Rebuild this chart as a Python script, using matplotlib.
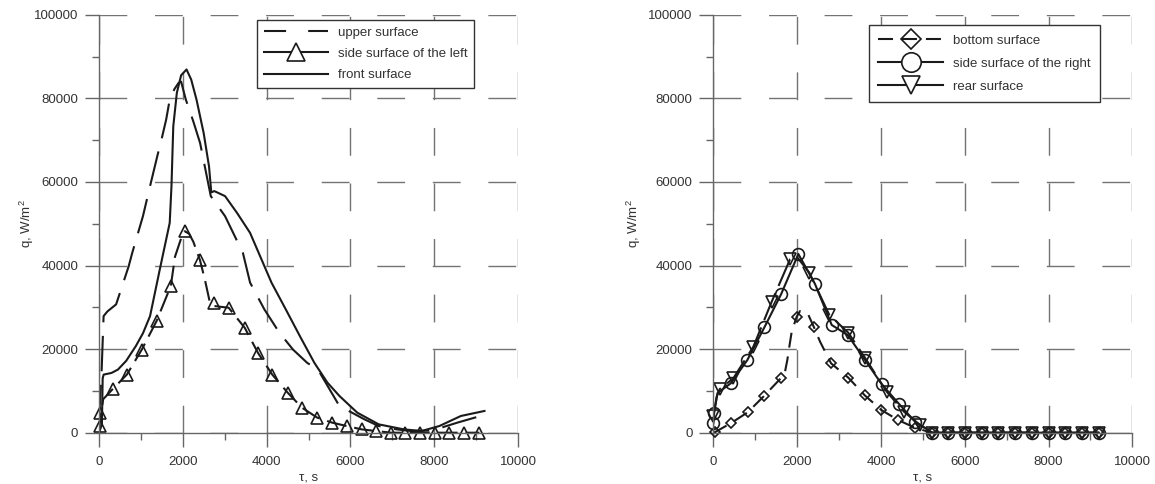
import matplotlib
matplotlib.use("Agg")
import matplotlib.pyplot as plt
from matplotlib.lines import Line2D
from matplotlib.ticker import MultipleLocator, FuncFormatter

plt.rcParams['font.family'] = ['Liberation Sans', 'DejaVu Sans']
plt.rcParams['mathtext.fontset'] = 'custom'
plt.rcParams['mathtext.rm'] = 'Liberation Sans'
plt.rcParams['mathtext.default'] = 'regular'

# ---------------- data: left panel ----------------
upper_t = [0, 60, 110, 200, 409, 708, 793, 1049, 1219, 1390, 1500, 1603, 1688, 1800, 1901, 1960,
           2072, 2250, 2413, 2668, 3009, 3435, 3606, 3947, 4300, 4629, 4970, 5226, 5737, 6334,
           6675, 7101, 7442, 7868, 8200, 8550, 9104, 9200]
upper_q = [3000, 14000, 27900, 29000, 30700, 39800, 43000, 51800, 59000, 66100, 70500, 74900, 79700,
           82200, 83700, 84000, 79700, 74500, 69300, 56600, 51800, 43000, 35900, 29500, 24000, 19900,
           16700, 15100, 6400, 3200, 1600, 800, 400, 500, 1300, 2400, 4000, 4100]

front_t = [0, 70, 88, 111, 300, 452, 650, 878, 1050, 1219, 1450, 1688, 1730, 1773, 1858, 1960, 2089,
           2200, 2327, 2498, 2626, 2680, 2753, 3009, 3300, 3606, 4117, 4458, 4800, 5141, 5450,
           5737, 6163, 6675, 7272, 7698, 8124, 8636, 9200]
front_q = [0, 2000, 13000, 13900, 14300, 15100, 17200, 20700, 23800, 27900, 39000, 50200, 59000,
           73300, 81300, 85500, 86900, 84500, 79700, 71700, 63700, 57500, 57800, 56600, 52500,
           47800, 35900, 29500, 23000, 16700, 12000, 8800, 4800, 2000, 800, 400, 1600, 4000, 5200]

side_left_t = [26, 26, 324, 665, 1023, 1373, 1714, 2046, 2413, 2754, 3094, 3478, 3794, 4135, 4501,
               4842, 5209, 5567, 5908, 6266, 6607, 6973, 7314, 7672, 8013, 8354, 8721, 9079]
side_left_q = [4800, 1600, 10400, 13900, 19900, 26700, 35100, 48200, 41400, 31100, 29900, 25100,
               19100, 13900, 9600, 6000, 3600, 2400, 1600, 800, 400, 0, 0, 0, 0, 0, 0, 0]
side_left_line_t = [0, 26, 100, 324, 665, 1023, 1373, 1714, 1814, 1974, 2046, 2150, 2251, 2410,
                    2530, 2650, 2754, 3094, 3478, 3794, 4135, 4501, 4842, 5209, 5567, 5908, 6266,
                    6607, 6973, 9079]
side_left_line_q = [0, 3000, 8000, 10400, 13900, 19900, 26700, 35100, 42100, 46900, 48200, 47600,
                    45700, 41300, 36500, 31000, 30300, 29900, 25100, 19100, 13900, 9600, 6000,
                    3600, 2400, 1600, 800, 400, 0, 0]

# ---------------- data: right panel ----------------
zero_t = [5604, 6000, 6400, 6800, 7200, 7600, 8000, 8400, 8800, 9200]

bottom_t = [44, 415, 821, 1210, 1608, 1990, 2403, 2809, 3222, 3613, 4010, 4408, 4808, 5210] + zero_t
bottom_q = [160, 2250, 4880, 8780, 13000, 27750, 25200, 16600, 13160, 8940, 5430, 3040, 1200, 0] + [0] * 10
bottom_line_t = [0, 44, 415, 821, 1210, 1608, 1711, 1766, 1814, 1871, 1990, 2069, 2268, 2403,
                 2546, 2809, 3222, 3613, 4010, 4408, 4808, 5210, 9200]
bottom_line_q = [0, 160, 2250, 4880, 8780, 13000, 14600, 17400, 20600, 24200, 27750, 29100,
                 28200, 25200, 21800, 16600, 13160, 8940, 5430, 3040, 1200, 0, 0]

side_right_t = [0, 18, 415, 812, 1218, 1616, 2029, 2427, 2825, 3207, 3621, 4019, 4432, 4814, 5227] + zero_t
side_right_q = [2250, 4640, 11800, 17390, 25200, 33100, 42750, 35570, 25770, 23370, 17390, 11580,
                6870, 2630, 0] + [0] * 10
side_right_line_t = [0, 18, 100, 415, 812, 1218, 1616, 2029, 2427, 2825, 3207, 3621, 4019, 4432,
                     4814, 5227, 9200]
side_right_line_q = [2250, 4640, 9500, 11800, 17390, 25200, 33100, 42750, 35570, 25770, 23370,
                     17390, 11580, 6870, 2630, 0, 0]

rear_t = [0, 150, 477, 955, 1393, 1831, 2291, 2769, 3222, 3621, 4138, 4551, 4933, 5227] + zero_t
rear_q = [4000, 10400, 13010, 20570, 31340, 41480, 38280, 28160, 23900, 17900, 9810, 5020, 1840, 0] + [0] * 10
rear_line_t = [0, 80, 150, 477, 955, 1393, 1831, 2000, 2291, 2769, 3222, 3621, 4138, 4551, 4933,
               5227, 9200]
rear_line_q = [4000, 8600, 10400, 13010, 20570, 31340, 41480, 42000, 38280, 28160, 23900, 17900,
               9810, 5020, 1840, 0, 0]

xlabel = 'τ, s'
ylabel = 'q, W/m$^2$'
left_labels = ['upper surface', 'side surface of the left', 'front surface']
right_labels = ['bottom surface', 'side surface of the right', 'rear surface']

# ---------------- styling ----------------
LC = '#1a1a1a'
GC = '#737373'
TC = '#333333'
LW = 1.5

fig = plt.figure(figsize=(11.55, 4.84), dpi=100)
axL = fig.add_axes([0.0857, 0.106, 0.3628, 0.8636])
axR = fig.add_axes([0.6176, 0.106, 0.3628, 0.8636])


def style_axes(ax, ylabelpad):
    ax.set_xlim(0, 10000)
    ax.set_ylim(0, 100000)
    ax.xaxis.set_major_locator(MultipleLocator(2000))
    ax.xaxis.set_minor_locator(MultipleLocator(1000))
    ax.yaxis.set_major_locator(MultipleLocator(20000))
    ax.yaxis.set_minor_locator(MultipleLocator(10000))
    fmt = FuncFormatter(lambda v, p: '%d' % v)
    ax.xaxis.set_major_formatter(fmt)
    ax.yaxis.set_major_formatter(fmt)
    ax.set_axisbelow(True)
    ax.grid(True, which='major', color=GC, lw=1.0, linestyle=(0, (20, 20)))
    for s in ['top', 'right']:
        ax.spines[s].set_visible(False)
    for s in ['left', 'bottom']:
        ax.spines[s].set_color('#666666')
        ax.spines[s].set_linewidth(1.0)
    ax.tick_params(which='major', direction='out', length=10, width=1.0, color='#666666',
                   labelsize=9.5, labelcolor=TC)
    ax.tick_params(which='minor', direction='out', length=5, width=1.0, color='#666666')
    ax.tick_params(axis='x', which='major', pad=6.5)
    ax.tick_params(axis='y', which='major', pad=5)
    ax.set_xlabel(xlabel, fontsize=9.5, color=TC, labelpad=3)
    ax.set_ylabel(ylabel, fontsize=9.5, color=TC, labelpad=ylabelpad)


style_axes(axL, -1.5)
style_axes(axR, 4)

# left panel
axL.plot(upper_t, upper_q, color=LC, lw=LW, linestyle=(0, (17, 6.5)))
axL.plot(front_t, front_q, color=LC, lw=LW, linestyle='-')
axL.plot(side_left_line_t, side_left_line_q, color=LC, lw=LW, linestyle=(0, (9.6, 3.8)))
axL.plot(side_left_t, side_left_q, linestyle='none', marker='^', ms=9, mfc='none', mec=LC,
         mew=1.2, clip_on=False)

# right panel
axR.plot(bottom_line_t, bottom_line_q, color=LC, lw=LW, linestyle=(0, (7.2, 4.3)))
axR.plot(bottom_t, bottom_q, linestyle='none', marker='D', ms=5.5, mfc='none', mec=LC, mew=1.2,
         clip_on=False)
axR.plot(side_right_line_t, side_right_line_q, color=LC, lw=LW, linestyle='-')
axR.plot(side_right_t, side_right_q, linestyle='none', marker='o', ms=8.5, mfc='none', mec=LC,
         mew=1.2, clip_on=False)
axR.plot(rear_line_t, rear_line_q, color=LC, lw=LW, linestyle=(0, (14, 3.8)))
axR.plot(rear_t, rear_q, linestyle='none', marker='v', ms=9, mfc='none', mec=LC, mew=1.2,
         clip_on=False)

# legends (proxy handles)
hL = [Line2D([], [], color=LC, lw=LW, linestyle=(0, (10.6, 10.6))),
      Line2D([], [], color=LC, lw=LW, marker='^', ms=13, mfc='white', mec=LC, mew=1.2),
      Line2D([], [], color=LC, lw=LW)]
hR = [Line2D([], [], color=LC, lw=LW, linestyle=(0, (7.2, 4.3)), marker='D', ms=10, mfc='none',
             mec=LC, mew=1.2),
      Line2D([], [], color=LC, lw=LW, marker='o', ms=14, mfc='white', mec=LC, mew=1.2),
      Line2D([], [], color=LC, lw=LW, marker='v', ms=13, mfc='white', mec=LC, mew=1.2)]

for ax, h, labs, anchor, lsp, bpad in [(axL, hL, left_labels, (0.377, 0.987), 0.67, 0.5),
                                       (axR, hR, right_labels, (0.372, 0.975), 0.83, 0.7)]:
    leg = ax.legend(h, labs, loc='upper left', bbox_to_anchor=anchor, borderaxespad=0,
                    fontsize=9.5, handlelength=4.9, handletextpad=0.75, labelspacing=lsp,
                    borderpad=bpad, fancybox=False, framealpha=1, edgecolor='#333333',
                    labelcolor=TC)
    leg.get_frame().set_linewidth(1.0)

fig.savefig('out.png', dpi=100)
